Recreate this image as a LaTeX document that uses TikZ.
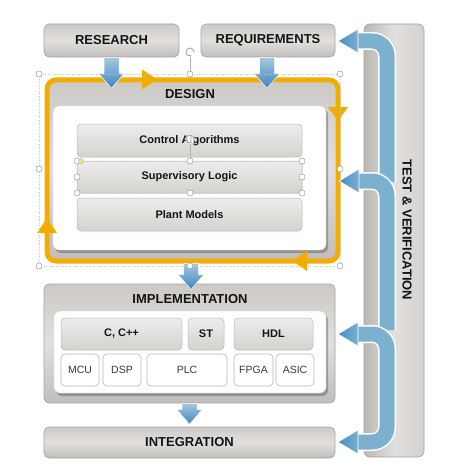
\documentclass[tikz,border=0pt]{standalone}
\usepackage{fontspec}
\setmainfont{Liberation Sans}
\usetikzlibrary{calc,shadows}
\definecolor{boxtop}{RGB}{204,201,198}
\definecolor{boxmid}{RGB}{226,224,222}
\definecolor{boxbot}{RGB}{192,189,186}
\definecolor{boxedge}{RGB}{165,162,160}
\definecolor{subtop}{RGB}{238,237,235}
\definecolor{subbot}{RGB}{212,210,207}
\definecolor{subedge}{RGB}{185,182,180}
\definecolor{tvleft}{RGB}{185,182,179}
\definecolor{tvmid}{RGB}{226,224,222}
\definecolor{tvright}{RGB}{212,209,207}
\definecolor{orng}{RGB}{243,173,0}
\definecolor{band}{RGB}{124,176,207}
\definecolor{hdark}{RGB}{70,140,192}
\definecolor{dlight}{RGB}{165,200,224}
\definecolor{ddark}{RGB}{62,134,190}
\definecolor{txt}{RGB}{20,20,20}
\newcommand\bluedown[2]{%
  \shade[top color=dlight, bottom color=ddark, draw=white, line width=0.5pt]
    let \p1=#1, \p2=#2 in
    (\x1-7.5pt,\y1) -- (\x1+7.5pt,\y1) -- (\x1+7.5pt,\y2+15pt) -- (\x1+13pt,\y2+15pt)
    -- (\x1,\y2) -- (\x1-13pt,\y2+15pt) -- (\x1-7.5pt,\y2+15pt) -- cycle;}
\newcommand\bluehead[1]{%
  \shade[left color=hdark, right color=band, draw=white, line width=0.6pt]
    let \p1=#1 in (\p1) -- (\x1+20pt,\y1+12pt) -- (\x1+20pt,\y1-12pt) -- cycle;}
\begin{document}
\begin{tikzpicture}[x=1pt,y=-1pt,
  title/.style={font=\fontsize{13}{15}\selectfont\bfseries, text=txt},
  graybox/.style={rounded corners=5pt, draw=boxedge, line width=0.6pt,
    top color=boxtop, bottom color=boxbot, middle color=boxmid, inner sep=0pt},
  tvbox/.style={rounded corners=6pt, draw=boxedge, line width=0.6pt,
    left color=tvleft, right color=tvright, middle color=tvmid, inner sep=0pt},
  subbox/.style={rounded corners=4pt, draw=subedge, line width=0.5pt,
    top color=subtop, bottom color=subbot, inner sep=0pt,
    font=\fontsize{11}{13}\selectfont\bfseries, text=txt},
  chip/.style={rounded corners=4pt, draw=subedge, line width=0.6pt, fill=white,
    inner sep=0pt, font=\fontsize{10.5}{12}\selectfont, text=txt!85},
  panel/.style={rounded corners=6pt, fill=white, draw=gray!35, line width=0.4pt,
    drop shadow={shadow xshift=2pt, shadow yshift=-3pt, opacity=0.45, fill=black!65}},
  bandstyle/.style={draw=band, line width=15pt, rounded corners=15pt,
    preaction={draw=white, line width=18pt}},
  handle/.style={draw=gray!75, fill=white, line width=0.5pt},
  orangetip/.style={fill=orng}
]
\useasboundingbox (0,0) rectangle (450,476);

% Test & verification column
\node[tvbox, minimum width=60pt, minimum height=433pt] (tv) at (394,240.5) {};
\node[title, rotate=-90] (tvlabel) at (407,230) {TEST \& VERIFICATION};

% top boxes
\node[graybox, title, minimum width=135pt, minimum height=33pt] (research) at (111.5,40.5) {RESEARCH};
\node[graybox, title, minimum width=134pt, minimum height=33pt] (req) at (268,40.5) {REQUIREMENTS};

% design block
\node[graybox, draw=orng, line width=5pt, rounded corners=9pt,
      minimum width=291pt, minimum height=181pt] (design) at (192.5,170.5) {};
\node[title] (designlabel) at (190,94) {DESIGN};
\node[panel, minimum width=273pt, minimum height=144pt] (dpanel) at (189.5,178) {};
\node[subbox, minimum width=225pt, minimum height=33pt] (ctrl) at (189.5,140.5) {Control Algorithms};
\node[subbox, minimum width=225pt, minimum height=32pt] (sup) at (189.5,177) {Supervisory Logic};
\node[subbox, minimum width=225pt, minimum height=33pt] (plant) at (189.5,214.5) {Plant Models};

% orange loop arrowheads
\fill[orangetip] (142,69.5) -- (157,79.5) -- (142,89.5) -- cycle;
\fill[orangetip] (328,107) -- (348,107) -- (338,121) -- cycle;
\fill[orangetip] (307,251) -- (292,261) -- (307,271) -- cycle;
\fill[orangetip] (37,233) -- (57,233) -- (47,218) -- cycle;

% implementation block
\node[graybox, minimum width=291pt, minimum height=119pt] (impl) at (189.5,343.5) {};
\node[title] (impllabel) at (190,299) {IMPLEMENTATION};
\node[panel, minimum width=272pt, minimum height=82pt] (ipanel) at (190,352) {};
\node[subbox, minimum width=121pt, minimum height=32pt] (c) at (121.5,334) {C, C++};
\node[subbox, minimum width=36pt, minimum height=32pt] (st) at (206,334) {ST};
\node[subbox, minimum width=79pt, minimum height=32pt] (hdl) at (273.5,334) {HDL};
\node[chip, minimum width=38pt, minimum height=32pt] (mcu) at (80,370) {MCU};
\node[chip, minimum width=38pt, minimum height=32pt] (dsp) at (122,370) {DSP};
\node[chip, minimum width=80pt, minimum height=32pt] (plc) at (187,370) {PLC};
\node[chip, minimum width=39pt, minimum height=32pt] (fpga) at (253.5,370) {FPGA};
\node[chip, minimum width=38pt, minimum height=32pt] (asic) at (295,370) {ASIC};

% integration
\node[graybox, title, minimum width=291pt, minimum height=31pt] (integ) at (189.5,442.5) {INTEGRATION};

% blue down arrows
\bluedown{(research.south)}{($(research.south)+(0,31)$)}
\bluedown{($(req.south)+(-1,0)$)}{($(req.south)+(-1,31)$)}
\bluedown{($(design.south)+(-1.5,0)$)}{($(design.south)+(-1.5,26)$)}
\bluedown{(impl.south)}{($(impl.south)+(0,21)$)}

% feedback arrows from test & verification
\coordinate (tA) at (338,41);
\coordinate (tB) at (339,181);
\coordinate (tC) at (338,334);
\coordinate (tD) at (338,442);
\coordinate (sA) at (387,182);
\coordinate (sB) at (387,330);
\draw[bandstyle] (sA) -- (sA |- tA) -- ($(tA)+(18,0)$);
\bluehead{(tA)}
\draw[bandstyle] (sB) -- (sB |- tB) -- ($(tB)+(17,0)$);
\bluehead{(tB)}
\draw[bandstyle] ($(tC)+(18,0)$) -- (sB |- tC) -- (sB |- tD) -- ($(tD)+(18,0)$);
\bluehead{(tC)}
\bluehead{(tD)}

% selection handles (as shown in the picture)
\draw[dotted, gray!45, line width=0.4pt] (39,74) rectangle (340,266);
\draw[gray!60, line width=0.5pt] (190,57) -- (190,74);
\fill[white] (190,52) circle[radius=5pt];
\draw[gray!70, line width=0.9pt] (190,52) ++(4pt,0) arc[start angle=0, end angle=290, radius=4pt];
\foreach \hx/\hy in {39/74,190/74,340/74,39/169,340/169,39/266,190/266,340/266}
  \draw[handle] (\hx,\hy) circle[radius=3pt];
\draw[dotted, gray!45, line width=0.4pt] (77,161) rectangle (302,193);
\draw[gray!60, line width=0.5pt] (190,144) -- (190,161);
\fill[white, opacity=0.8] (190,139) circle[radius=5pt];
\draw[gray!70, line width=0.9pt] (190,139) ++(4pt,0) arc[start angle=0, end angle=290, radius=4pt];
\foreach \hx/\hy in {77/161,190/161,302/161,77/177,302/177,77/193,190/193,302/193}
  \draw[handle] (\hx,\hy) circle[radius=3pt];
\fill[yellow!70!orange!60, draw=gray!60, line width=0.4pt] (81,161) circle[radius=2.5pt];
\end{tikzpicture}
\end{document}
